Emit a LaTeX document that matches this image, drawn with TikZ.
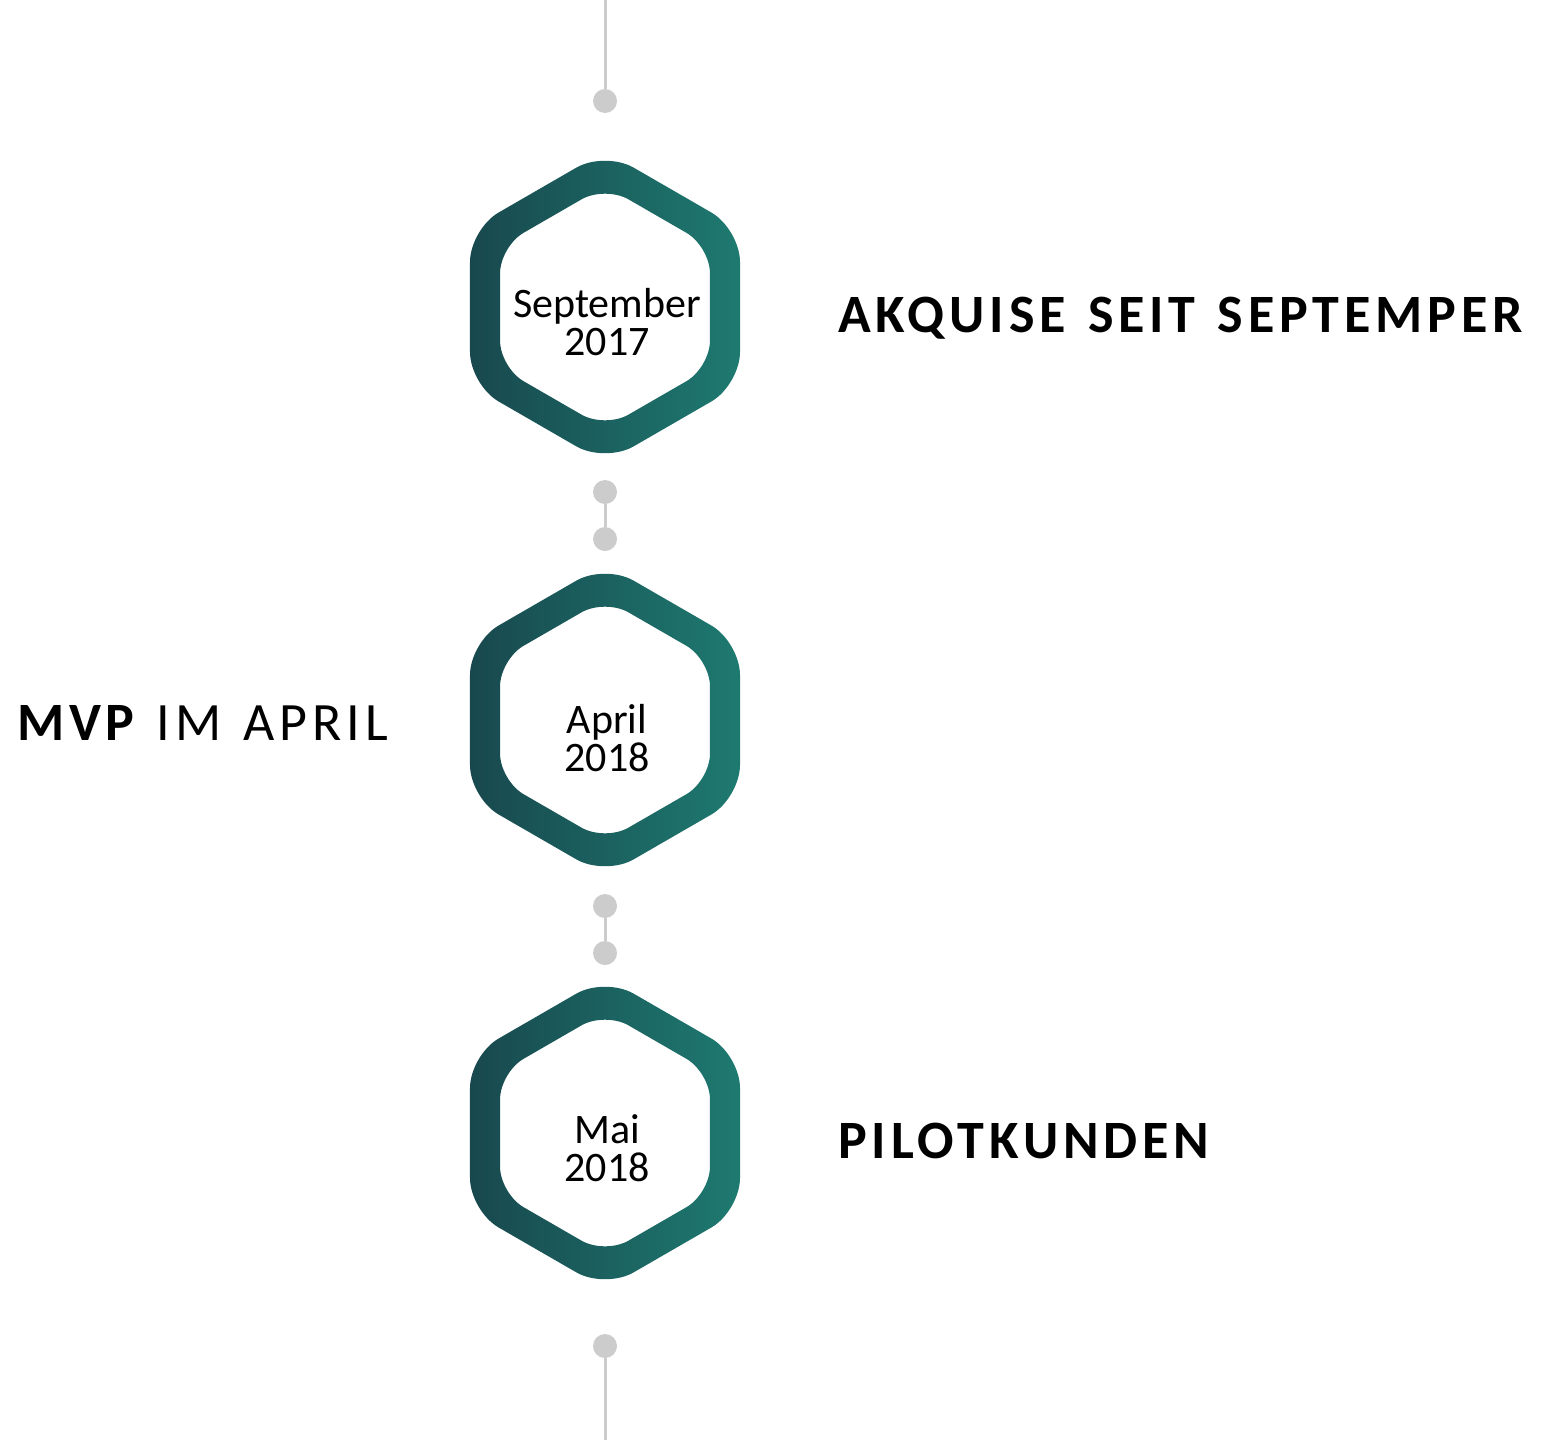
\documentclass[tikz,border=0pt]{standalone}
\usepackage{fontspec}
\setmainfont{Carlito}
\newfontfamily\trackfont[LetterSpace=9,WordSpace=1.3]{Carlito}
\usetikzlibrary{calc}

\definecolor{hexdark}{RGB}{24,72,78}
\definecolor{hexlight}{RGB}{30,122,112}
\definecolor{linegray}{RGB}{204,204,204}

\begin{document}
\begin{tikzpicture}[x=1pt,y=-1pt,
    dot/.style={circle,fill=linegray,inner sep=0pt,minimum size=24pt},
    conn/.style={draw=linegray,line width=3pt},
    hextext/.style={align=center,inner sep=0pt,font=\fontsize{42}{38}\selectfont},
    milestone/.style={inner sep=0pt,font=\fontsize{54}{60}\trackfont}]
        \useasboundingbox (0,0) rectangle (1545,1440);
        % timeline ends and dots
        \coordinate (top) at (605,0);
        \coordinate (bot) at (605,1440);
        \node[dot] (d1) at (605,101) {};
        \node[dot] (d2) at (605,492) {};
        \node[dot] (d3) at (605,539) {};
        \node[dot] (d4) at (605,906) {};
        \node[dot] (d5) at (605,953) {};
        \node[dot] (d6) at (605,1346) {};
        \draw[conn] (top) -- (d1);
        \draw[conn] (d2) -- (d3);
        \draw[conn] (d4) -- (d5);
        \draw[conn] (d6) -- (bot);
        % hexagon rings
        \foreach \y in {307,720,1133} {
          \shade[left color=hexdark,right color=hexlight,even odd rule,
                 shift={(605,\y)},rounded corners=33pt]
            (0:135pt) -- (30:155.9pt) -- (90:155.9pt) -- (150:155.9pt)
            -- (210:155.9pt) -- (270:155.9pt) -- (330:155.9pt) -- cycle
            (0:105pt) [rounded corners=27pt] -- (30:121.2pt) -- (90:121.2pt)
            -- (150:121.2pt) -- (210:121.2pt) -- (270:121.2pt)
            -- (330:121.2pt) -- cycle;
        }
        \node[hextext] (sep) at (607,322) {September\\2017};
        \node[hextext] (apr) at (607,738) {April\\2018};
        \node[hextext] (mai) at (607,1148) {Mai\\2018};
        % milestone labels
        \node[milestone,anchor=base west] (akq) at (838,332)
          {\bfseries AKQUISE SEIT SEPTEMPER};
        \node[milestone,anchor=base west] (mvp) at (17,740)
          {\bfseries MVP\mdseries{} IM APRIL};
        \node[milestone,anchor=base west] (pil) at (838,1158)
          {\bfseries PILOTKUNDEN};
\end{tikzpicture}
\end{document}
